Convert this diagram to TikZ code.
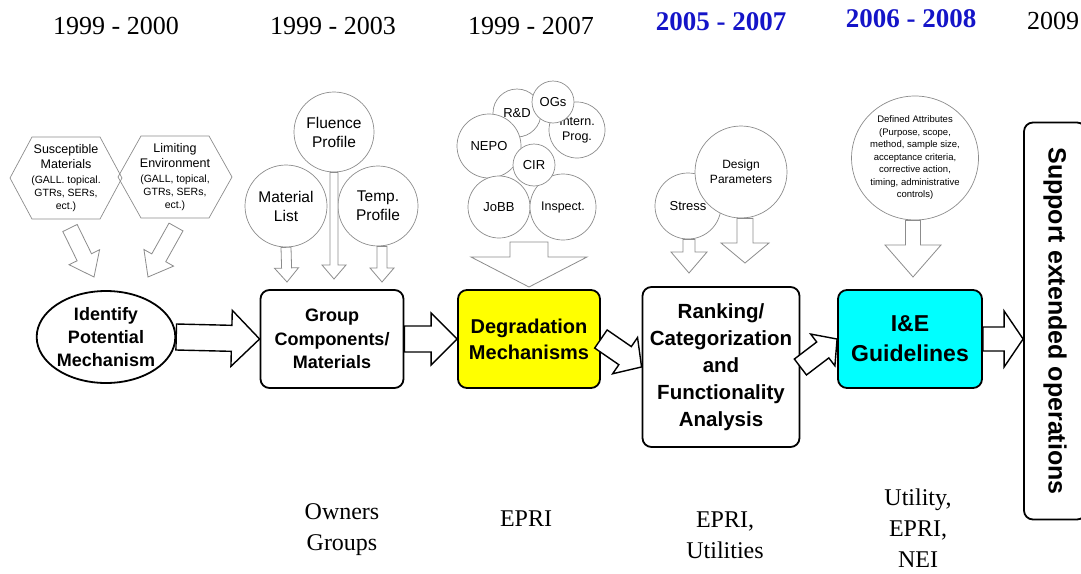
\documentclass[tikz,border=0pt]{standalone}
\usepackage{fontspec}
\setmainfont{Liberation Sans}
\newfontfamily\yearfont{Liberation Serif}
\usetikzlibrary{positioning,shapes.geometric,calc}
\usepackage{xcolor}
\definecolor{yearblue}{HTML}{1414C8}
\definecolor{degrfill}{HTML}{FFFF00}
\definecolor{iefill}{HTML}{00FFFF}
\definecolor{bubbleline}{HTML}{8C8C8C}
\newcommand{\fs}[2]{\fontsize{#1}{#2}\selectfont}
\newcommand{\hexhead}[1]{{\fs{12.5}{15}#1}}
\newcommand{\hollowarrow}[6][]{%
  \draw[#1] let \p1=(#2), \p2=(#3),
    \n1={atan2(\y2-\y1,\x2-\x1)}, \n2={veclen(\x2-\x1,\y2-\y1)} in
    [shift={(\p1)},rotate=\n1]
    (0pt,#4pt) -- (\n2-#6pt,#4pt) -- (\n2-#6pt,#5pt) -- (\n2,0pt)
    -- (\n2-#6pt,-#5pt) -- (\n2-#6pt,-#4pt) -- (0pt,-#4pt) -- cycle;}
\tikzset{
  flowbox/.style={draw,line width=1.8pt,rounded corners=9pt,align=center,
    fill=white,inner sep=2pt},
  bubble/.style={circle,draw=bubbleline,line width=.7pt,fill=white,
    align=center,inner sep=0pt,font=\fs{13}{15}},
  hextext/.style={align=center,inner sep=0pt,font=\fs{10.5}{13}},
  hexline/.style={draw=bubbleline,line width=.7pt},
  flowarrow/.style={draw=black,fill=white,line width=1.4pt},
  feedarrow/.style={draw=bubbleline,fill=white,line width=.8pt},
  year/.style={font=\yearfont\fs{26}{30}},
  newyear/.style={font=\yearfont\bfseries\fs{27}{30},text=yearblue},
  owner/.style={font=\yearfont\fs{24}{31},align=center}
}
\begin{document}
\begin{tikzpicture}[x=1pt,y=-1pt]
\useasboundingbox (0,0) rectangle (1081,573);
\node[year] (y1) at (116,26) {1999 - 2000};
\node[year] (y2) at (333,26) {1999 - 2003};
\node[year] (y3) at (531,26) {1999 - 2007};
\node[newyear] (y4) at (721,22) {2005 - 2007};
\node[newyear] (y5) at (911,19) {2006 - 2008};
\node[year] (y6) at (1053,21) {2009};

\node[ellipse,draw,line width=1.8pt,minimum width=136,minimum height=92,
  inner sep=0pt,align=center,font=\bfseries\fs{18}{23}] (ident) at (106,337)
  {Identify\\Potential\\Mechanism};
\node[flowbox,minimum width=143,minimum height=98,font=\bfseries\fs{18}{23.5}]
  (group) at (332,339) {Group\\Components/\\Materials};
\node[flowbox,fill=degrfill,minimum width=142,minimum height=98,
  font=\bfseries\fs{20}{26}] (degr) at (529,339) {Degradation\\Mechanisms};
\node[flowbox,minimum width=157,minimum height=160,font=\bfseries\fs{20.5}{27}]
  (rank) at (721,367)
  {Ranking/\\Categorization\\and\\Functionality\\Analysis};
\node[flowbox,fill=iefill,minimum width=144,minimum height=98,
  font=\bfseries\fs{23}{30}] (ie) at (910,339) {I\&E\\Guidelines};
\node[flowbox,rotate=-90,minimum width=397,minimum height=62,
  font=\bfseries\fs{25}{30}] (support) at (1055,321)
  {Support extended operations};

\hollowarrow[flowarrow]{ident.east}{group.west}{13}{28}{28}
\hollowarrow[flowarrow]{group.east}{degr.west}{13}{26}{26}
\hollowarrow[flowarrow]{degr.east}{rank.west}{11}{22}{20}
\hollowarrow[flowarrow]{rank.east}{ie.west}{10}{20}{18}
\hollowarrow[flowarrow]{ie.east}{support.south |- ie.east}{12}{28}{19}

\node[hextext] (susmat) at (66,178)
  {\hexhead{Susceptible}\\[2pt]\hexhead{Materials}\\[2pt](GALL. topical.\\GTRs, SERs,\\ect.)};
\draw[hexline] (susmat) ++(-56,0) -- ++(22,-41) -- ++(68,0) -- ++(22,41)
  -- ++(-22,41) -- ++(-68,0) -- cycle;
\node[hextext] (limenv) at (175,177)
  {\hexhead{Limiting}\\[2pt]\hexhead{Environment}\\[2pt](GALL, topical,\\GTRs, SERs,\\ect.)};
\draw[hexline] (limenv) ++(-57,0) -- ++(23,-41) -- ++(68,0) -- ++(23,41)
  -- ++(-23,41) -- ++(-68,0) -- cycle;
\coordinate (susfrom) at (70,228);
\coordinate (susto) at (94,277);
\coordinate (limfrom) at (176,227);
\coordinate (limto) at (148,277);
\hollowarrow[feedarrow]{susfrom}{susto}{8}{17}{22}
\hollowarrow[feedarrow]{limfrom}{limto}{8}{17}{22}

\node[bubble,minimum size=82,font=\fs{15.5}{19}] (matlist) at (286,206)
  {Material\\List};
\node[bubble,minimum size=80,font=\fs{15.5}{19}] (temp) at (378,206)
  {Temp.\\Profile};
\node[bubble,minimum size=80,font=\fs{15.5}{19}] (fluence) at (334,132)
  {Fluence\\Profile};
\coordinate (matto) at (287,282);
\coordinate (tempto) at (382,282);
\coordinate (fluto) at (334,279);
\hollowarrow[feedarrow]{matlist.south}{matto}{5}{12}{14}
\hollowarrow[feedarrow]{temp.south -| tempto}{tempto}{5}{12}{14}
\hollowarrow[feedarrow]{fluence.south}{fluto}{4}{12}{14}

\node[bubble,minimum size=48] (rnd) at (517,113) {R\&D};
\node[bubble,minimum size=56,font=\fs{12.5}{15}] (intern) at (577,130)
  {Intern.\\Prog.};
\node[bubble,minimum size=42] (ogs) at (553,102) {OGs};
\node[bubble,minimum size=64] (nepo) at (489,146) {NEPO};
\node[bubble,minimum size=62] (jobb) at (499,207) {JoBB};
\node[bubble,minimum size=66,font=\fs{12.5}{15}] (inspect) at (563,207)
  {Inspect.};
\node[bubble,minimum size=42] (cir) at (534,165) {CIR};
\coordinate (degrfrom) at (529,242);
\coordinate (degrto) at (529,287);
\hollowarrow[feedarrow]{degrfrom}{degrto}{19}{58}{30}

\node[bubble,minimum size=66] (stress) at (688,206) {Stress};
\node[bubble,minimum size=92,font=\fs{12}{15}] (design) at (741,172)
  {Design\\Parameters};
\coordinate (stressto) at (689,273);
\coordinate (designto) at (745,263);
\hollowarrow[feedarrow]{stress.south -| stressto}{stressto}{6}{18}{21}
\hollowarrow[feedarrow]{design.south -| designto}{designto}{8}{24}{20}

\node[bubble,ellipse,minimum width=106,minimum height=124,font=\fs{9.5}{12.5}]
  (defattr) at (915,158)
  {Defined Attributes\\(Purpose, scope,\\method, sample size,\\acceptance criteria,\\corrective action,\\timing, administrative\\controls)};
\coordinate (ieto) at (913,277);
\hollowarrow[feedarrow]{defattr.south -| ieto}{ieto}{7.5}{28}{32}

\node[owner] (owners) at (342,530) {Owners\\Groups};
\node[owner] (epri) at (526,519) {EPRI};
\node[owner] (epriutil) at (725,535) {EPRI,\\Utilities};
\node[owner] (utility) at (918,528) {Utility,\\EPRI,\\NEI};
\end{tikzpicture}
\end{document}
